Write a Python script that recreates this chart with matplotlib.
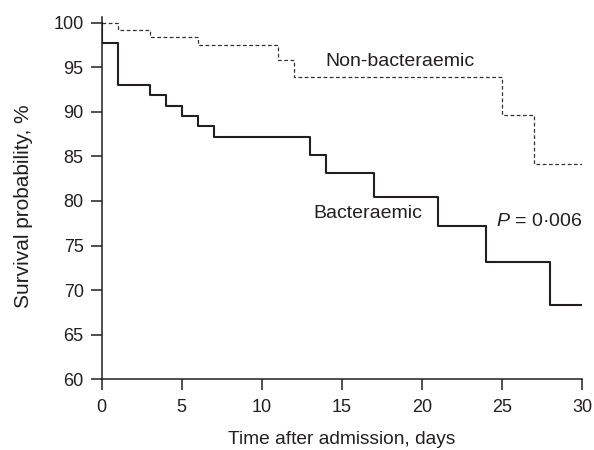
import matplotlib
matplotlib.use('Agg')
from matplotlib import pyplot as plt

plt.rcParams['font.family'] = ['Liberation Sans', 'DejaVu Sans']
plt.rcParams['mathtext.fontset'] = 'custom'
plt.rcParams['mathtext.rm'] = 'Liberation Sans'
plt.rcParams['mathtext.it'] = 'Liberation Sans:italic'

# Kaplan-Meier steps
days_nonbac = [0, 1, 3, 6, 11, 12, 25, 27, 30]
surv_nonbac = [100, 99.2, 98.4, 97.5, 95.8, 93.9, 89.6, 84.1, 84.1]

days_bac = [0, 0, 1, 3, 4, 5, 6, 7, 13, 14, 17, 21, 24, 28, 30]
surv_bac = [100, 97.7, 93.0, 91.9, 90.7, 89.5, 88.4, 87.2, 85.2, 83.1, 80.5, 77.2, 73.2, 68.3, 68.3]

xticks = [0, 5, 10, 15, 20, 25, 30]
yticks = [60, 65, 70, 75, 80, 85, 90, 95, 100]

ink = '#231f20'

fig = plt.figure(figsize=(5.94, 4.5), dpi=100)
ax = fig.add_axes([0.1712, 0.1571, 0.8086, 0.8058])

ax.step(days_nonbac, surv_nonbac, where='post', color='#333333', lw=0.9, linestyle=(0, (3, 2)))
ax.step(days_bac, surv_bac, where='post', color=ink, lw=1.5)

ax.text(14.0, 95.7, 'Non-bacteraemic', fontsize=14, color=ink, va='center', ha='left')
ax.text(13.2, 78.6, 'Bacteraemic', fontsize=14, color=ink, va='center', ha='left')
ax.text(24.65, 77.65, '$P$ = 0·006', fontsize=14, color=ink, va='center', ha='left')

ax.set_xlim(0, 30)
ax.set_ylim(60, 100.67)
ax.set_xticks(xticks)
ax.set_yticks(yticks)
ax.tick_params(direction='out', length=8, width=1.1, labelsize=13, colors=ink)
ax.tick_params(axis='x', pad=6)
ax.tick_params(axis='y', pad=5)

for s in ['top', 'right']:
    ax.spines[s].set_visible(False)
for s in ['left', 'bottom']:
    ax.spines[s].set_linewidth(1.1)
    ax.spines[s].set_color(ink)

ax.set_xlabel('Time after admission, days', fontsize=13.8, color=ink, labelpad=11)
ax.set_ylabel('Survival probability, %', fontsize=15, color=ink)
ax.yaxis.set_label_coords(-0.143, 0.4766)

fig.savefig('out.png', dpi=100)
